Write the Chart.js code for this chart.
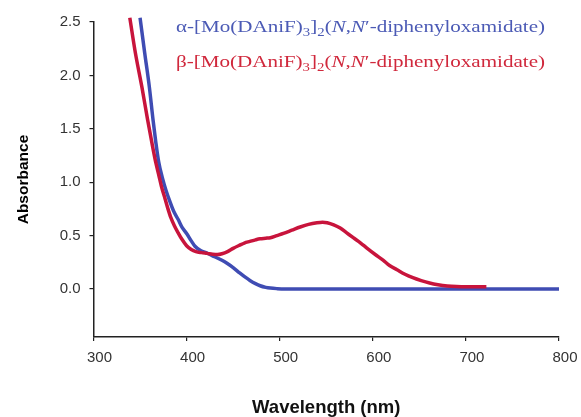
<!DOCTYPE html>
<html>
<head>
<meta charset="utf-8">
<script src="https://cdn.jsdelivr.net/npm/chart.js@4.4.1/dist/chart.umd.min.js"></script>
<style>
html,body{margin:0;padding:0;background:#fff;}
canvas{display:block;}
</style>
</head>
<body>
<canvas id="c" width="581" height="417"></canvas>
<script>
// ---- data ----
const wavelengthAlpha = [350, 355, 360, 364, 367, 370, 374, 378, 382, 386, 391, 395, 400, 405, 409, 415, 422, 428, 433, 438, 443, 450, 457, 463, 468, 474, 479, 485, 490, 497, 505, 550, 600, 650, 700, 750, 800];
const absorbanceAlpha = [2.54, 2.21, 1.89, 1.58, 1.37, 1.19, 1.04, 0.92, 0.82, 0.73, 0.65, 0.58, 0.52, 0.45, 0.40, 0.36, 0.335, 0.31, 0.29, 0.268, 0.243, 0.20, 0.15, 0.11, 0.08, 0.05, 0.03, 0.015, 0.008, 0.003, 0.0, 0.0, 0.0, 0.0, 0.0, 0.0, 0.0];

const wavelengthBeta = [339, 345, 352, 358, 364, 367, 370, 373, 377, 380, 383, 387, 391, 395, 400, 405, 410, 416, 422, 428, 433, 438, 444, 450, 457, 462, 468, 474, 479, 485, 490, 497, 504, 513, 522, 531, 540, 546, 551, 558, 565, 572, 579, 587, 594, 603, 611, 618, 626, 634, 643, 652, 661, 670, 680, 690, 700, 722];
const absorbanceBeta = [2.54, 2.21, 1.89, 1.59, 1.31, 1.18, 1.07, 0.96, 0.84, 0.75, 0.67, 0.59, 0.525, 0.465, 0.405, 0.37, 0.35, 0.34, 0.333, 0.325, 0.322, 0.33, 0.35, 0.38, 0.41, 0.43, 0.445, 0.46, 0.47, 0.475, 0.48, 0.50, 0.52, 0.55, 0.58, 0.605, 0.62, 0.625, 0.62, 0.60, 0.57, 0.525, 0.48, 0.43, 0.38, 0.32, 0.27, 0.22, 0.18, 0.14, 0.105, 0.078, 0.056, 0.04, 0.028, 0.022, 0.02, 0.02];

const xTicks = [300, 400, 500, 600, 700, 800];
const yTicks = [0.0, 0.5, 1.0, 1.5, 2.0, 2.5];

const xTitle = 'Wavelength (nm)';
const yTitle = 'Absorbance';

const legendAlpha = [
  {t: 'α-[Mo(DAniF)'}, {t: '3', sub: true}, {t: ']'}, {t: '2', sub: true}, {t: '('},
  {t: 'N', it: true}, {t: ','}, {t: 'N', it: true}, {t: '′-diphenyloxamidate)'}
];
const legendBeta = [
  {t: 'β-[Mo(DAniF)'}, {t: '3', sub: true}, {t: ']'}, {t: '2', sub: true}, {t: '('},
  {t: 'N', it: true}, {t: ','}, {t: 'N', it: true}, {t: '′-diphenyloxamidate)'}
];

const blueLine = '#3f4cb3';
const redLine = '#c8143c';
const blueText = '#4b5ab5';
const redText = '#d0283c';

function pts(xs, ys) { return xs.map((x, i) => ({x: x, y: ys[i]})); }

function partFont(p) {
  const size = p.sub ? 12 : 17;
  return (p.it ? 'italic ' : '') + size + 'px "Liberation Serif", "Times New Roman", serif';
}

const richLegend = {
  id: 'richLegend',
  afterDraw(chart) {
    const ctx = chart.ctx;
    const rows = [
      {parts: legendAlpha, color: blueText, y: 32},
      {parts: legendBeta, color: redText, y: 67}
    ];
    rows.forEach(r => {
      ctx.save();
      let w = 0;
      r.parts.forEach(p => { ctx.font = partFont(p); w += ctx.measureText(p.t).width; });
      const sx = 369 / w;
      ctx.translate(176, r.y);
      ctx.scale(sx, 1);
      ctx.fillStyle = r.color;
      ctx.textBaseline = 'alphabetic';
      ctx.textAlign = 'left';
      let x = 0;
      r.parts.forEach(p => {
        ctx.font = partFont(p);
        ctx.fillText(p.t, x, p.sub ? 4 : 0);
        x += ctx.measureText(p.t).width;
      });
      ctx.restore();
    });
  }
};

const tickFont = {family: '"Liberation Sans", Arial, sans-serif', size: 15};

new Chart(document.getElementById('c'), {
  type: 'line',
  data: {
    datasets: [
      {
        label: 'α',
        data: pts(wavelengthAlpha, absorbanceAlpha),
        borderColor: blueLine,
        borderWidth: 3.5,
        pointRadius: 0,
        fill: false,
        cubicInterpolationMode: 'monotone',
        clip: 8,
        order: 1
      },
      {
        label: 'β',
        data: pts(wavelengthBeta, absorbanceBeta),
        borderColor: redLine,
        borderWidth: 3.5,
        pointRadius: 0,
        fill: false,
        cubicInterpolationMode: 'monotone',
        clip: 8,
        order: 0
      }
    ]
  },
  options: {
    responsive: false,
    devicePixelRatio: 1,
    animation: false,
    layout: {padding: {left: 0, top: 22, right: 22, bottom: 0}},
    plugins: {legend: {display: false}, tooltip: {enabled: false}},
    scales: {
      x: {
        type: 'linear',
        min: 300,
        max: 800,
        afterBuildTicks: s => { s.ticks = xTicks.map(v => ({value: v})); },
        afterFit: s => { s.height = 80; },
        ticks: {font: tickFont, color: '#333', padding: 8, labelOffset: 6, maxRotation: 0,
                callback: v => String(v)},
        grid: {drawOnChartArea: false, drawTicks: true, tickLength: 4, color: '#222', lineWidth: 1.2},
        border: {display: true, color: '#222', width: 1.5},
        title: {display: true, text: xTitle, color: '#111',
                font: {family: '"Liberation Sans", Arial, sans-serif', size: 18.5, weight: 'bold', lineHeight: 1},
                padding: {top: 0, bottom: 0}}
      },
      y: {
        type: 'linear',
        min: -0.45,
        max: 2.5,
        afterBuildTicks: s => { s.ticks = yTicks.map(v => ({value: v})); },
        afterFit: s => { s.width = 93.5; },
        ticks: {font: tickFont, color: '#333', padding: 9, callback: v => Number(v).toFixed(1)},
        grid: {drawOnChartArea: false, drawTicks: true, tickLength: 4, color: '#222', lineWidth: 1.2},
        border: {display: true, color: '#222', width: 1.5},
        title: {display: true, text: yTitle, color: '#000',
                font: {family: '"Liberation Sans", Arial, sans-serif', size: 15.5, weight: 'bold', lineHeight: 1.2},
                padding: {top: 14, bottom: 0}}
      }
    }
  },
  plugins: [richLegend]
});
</script>
</body>
</html>
